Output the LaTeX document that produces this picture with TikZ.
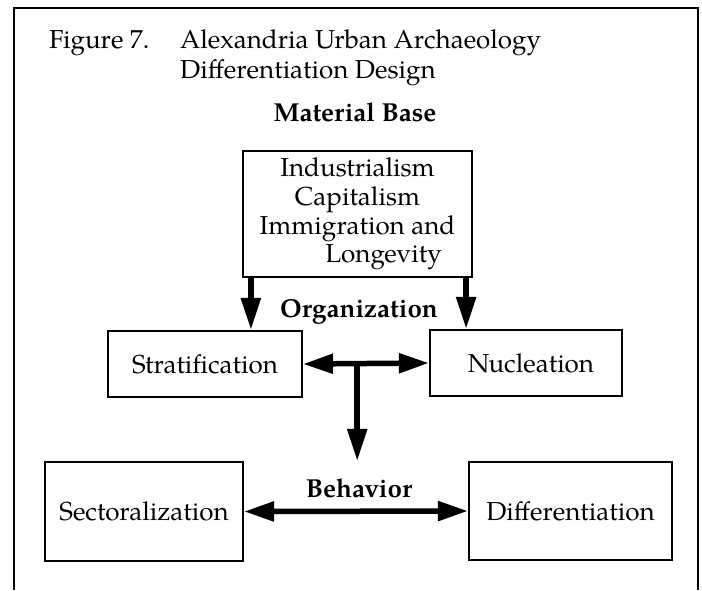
\documentclass[tikz,border=0pt]{standalone}
\usepackage{fontspec}
\setmainfont{texgyrepagella}[Extension=.otf, UprightFont=*-regular, BoldFont=*-bold]
\usetikzlibrary{arrows.meta,calc}
\tikzset{
  boxnode/.style={draw, line width=2.2pt, inner sep=0pt, align=center},
  lbl/.style={inner sep=0pt, anchor=base, font=\bfseries},
  ttl/.style={inner sep=0pt, anchor=base west},
  bigarrow/.style={line width=5.5pt, -{Triangle[length=32pt,width=19pt]}},
  bigdarrow/.style={line width=5.5pt, {Triangle[length=30pt,width=19pt]}-{Triangle[length=30pt,width=19pt]}},
}
\begin{document}
\begin{tikzpicture}[x=1pt,y=-1pt]
\fontsize{26}{28.7}\selectfont
\useasboundingbox (0,0) rectangle (702,590);
% frame
\draw[line width=2pt] (14,590) -- (14,8) -- (698,8) -- (698,590);
% title
\node[ttl] (fig) at (49,48) {Figure 7.};
\node[ttl] (t1) at (180,48) {Alexandria Urban Archaeology};
\node[ttl] (t2) at (180,78) {Differentiation Design};
% labels
\node[lbl] (mb) at (355,121) {Material Base};
\node[lbl] (org) at (359,317) {Organization};
\node[lbl] (beh) at (359,497) {Behavior};
% boxes
\node[boxnode, minimum width=229pt, minimum height=126pt] (mat) at (357.5,214)
  {Industrialism\\Capitalism\\Immigration and\\\hspace*{52pt}Longevity};
\node[boxnode, minimum width=194pt, minimum height=66pt] (strat) at (205,364) {Stratification};
\node[boxnode, minimum width=192pt, minimum height=66pt] (nuc) at (526,363) {\hspace*{10pt}Nucleation};
\node[boxnode, minimum width=198pt, minimum height=99pt] (sect) at (144,511.5) {Sectoralization};
\node[boxnode, minimum width=203pt, minimum height=98pt] (diff) at (570.5,511) {Differentiation};
% arrows
\draw[bigarrow] ([xshift=9pt]mat.south west) -- ([xshift=9pt]mat.south west |- strat.north);
\draw[bigarrow] ([xshift=-7pt]mat.south east) -- ([xshift=-7pt]mat.south east |- nuc.north);
\draw[bigdarrow] (strat.east) -- (nuc.west);
\coordinate (stem) at ($(strat.east)!0.43!(nuc.west)$);
\draw[bigarrow] (stem) -- (stem |- sect.north);
\draw[bigdarrow] (sect.east) -- (diff.west);
\end{tikzpicture}
\end{document}
